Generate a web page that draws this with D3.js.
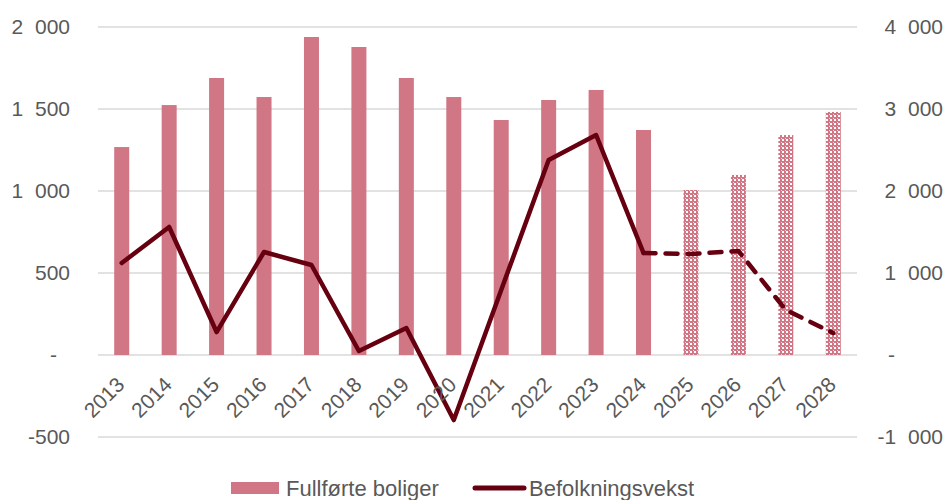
<!DOCTYPE html>
<html>
<head>
<meta charset="utf-8">
<script src="https://cdn.jsdelivr.net/npm/d3@7"></script>
<style>
    body { margin: 0; background: #fff; }
    svg text { font-family: "Liberation Sans", Arial, sans-serif; fill: #595959; }
</style>
</head>
<body>
<svg id="chart" width="947" height="500"></svg>
<script>
// data
var years = ["2013", "2014", "2015", "2016", "2017", "2018", "2019", "2020",
    "2021", "2022", "2023", "2024", "2025", "2026", "2027", "2028"];
var boliger = [1268, 1524, 1689, 1573, 1939, 1878, 1689, 1573,
    1433, 1555, 1616, 1372, 1006, 1098, 1341, 1482];
var befolkning = [1122, 1561, 280, 1256, 1098, 49, 329, -793,
    793, 2378, 2683, 1244, 1232, 1268, 549, 268];
var forecastFrom = "2024"; // line is dashed from here, bars patterned after
var leftTicks = [-500, 0, 500, 1000, 1500, 2000];
var rightTicks = [-1000, 0, 1000, 2000, 3000, 4000];

var barColor = "#d07684";
var lineColor = "#660010";

const margin = { top: 27, right: 90, bottom: 63, left: 98 },
    width = 947 - margin.left - margin.right,
    height = 500 - margin.top - margin.bottom;

var svg = d3.select("#chart");

// checkered fill for the forecast bars
var defs = svg.append("defs");
var pat = defs.append("pattern")
    .attr("id", "prognose")
    .attr("patternUnits", "userSpaceOnUse")
    .attr("width", 4)
    .attr("height", 4);
pat.append("rect").attr("width", 4).attr("height", 4).attr("fill", barColor);
pat.append("rect").attr("x", 0).attr("y", 0).attr("width", 2).attr("height", 2).attr("fill", "#fff");
pat.append("rect").attr("x", 3).attr("y", 3).attr("width", 1).attr("height", 1).attr("fill", "#f3d9dd");

var g = svg.append("g").attr("transform", `translate(${margin.left},${margin.top})`);

var x = d3.scaleBand().domain(years).range([0, width]).paddingInner(0).paddingOuter(0);
var yL = d3.scaleLinear().domain([-500, 2000]).range([height, 0]);
var yR = d3.scaleLinear().domain([-1000, 4000]).range([height, 0]);

function fmt(v) {
    if (v == 0) return "-";
    var s = Math.abs(v) >= 1000
        ? Math.floor(Math.abs(v) / 1000) + "\u2007" + d3.format("03d")(Math.abs(v) % 1000)
        : String(Math.abs(v));
    return (v < 0 ? "-" : "") + s;
}

// gridlines
g.append("g")
    .selectAll("line")
    .data(leftTicks)
    .join("line")
    .attr("x1", 0)
    .attr("x2", width)
    .attr("y1", (d) => yL(d))
    .attr("y2", (d) => yL(d))
    .attr("stroke", "#d9d9d9")
    .attr("stroke-width", 1.5);

// left axis labels
g.append("g")
    .selectAll("text")
    .data(leftTicks)
    .join("text")
    .attr("x", (d) => (d == 0 ? -41 : -28))
    .attr("y", (d) => yL(d))
    .attr("dy", "0.35em")
    .attr("text-anchor", "end")
    .style("font-size", "21px")
    .text(fmt);

// right axis labels
g.append("g")
    .selectAll("text")
    .data(rightTicks)
    .join("text")
    .attr("x", (d) => (d == 0 ? width + 31 : width + 86))
    .attr("y", (d) => yR(d))
    .attr("dy", "0.35em")
    .attr("text-anchor", (d) => (d == 0 ? "start" : "end"))
    .style("font-size", "21px")
    .text(fmt);

// bars
var barW = 15;
var fi = years.indexOf(forecastFrom);
g.append("g")
    .selectAll("rect")
    .data(years)
    .join("rect")
    .attr("x", (d) => x(d) + x.bandwidth() / 2 - barW / 2)
    .attr("width", barW)
    .attr("y", (d, i) => yL(boliger[i]))
    .attr("height", (d, i) => yL(0) - yL(boliger[i]))
    .attr("fill", (d, i) => (i > fi ? "url(#prognose)" : barColor));

// line
var line = d3.line()
    .x((d) => x(d.year) + x.bandwidth() / 2)
    .y((d) => yR(d.v));
var pts = years.map((d, i) => ({ year: d, v: befolkning[i] }));

g.append("path")
    .datum(pts.slice(0, fi + 1))
    .attr("d", line)
    .attr("fill", "none")
    .attr("stroke", lineColor)
    .attr("stroke-width", 4.5)
    .attr("stroke-linejoin", "round")
    .attr("stroke-linecap", "round");

g.append("path")
    .datum(pts.slice(fi))
    .attr("d", line)
    .attr("fill", "none")
    .attr("stroke", lineColor)
    .attr("stroke-width", 4.5)
    .attr("stroke-dasharray", "12,10")
    .attr("stroke-linecap", "round");

// x labels, rotated
g.append("g")
    .selectAll("text")
    .data(years)
    .join("text")
    .attr("text-anchor", "end")
    .style("font-size", "21px")
    .attr("transform", (d) => `translate(${x(d) + x.bandwidth() / 2 + 4},${yL(0) + 31}) rotate(-45)`)
    .text((d) => d);

// legend
var leg = svg.append("g");
leg.append("rect")
    .attr("x", 231).attr("y", 482).attr("width", 48).attr("height", 12)
    .attr("fill", barColor);
leg.append("text")
    .attr("x", 286).attr("y", 488).attr("dy", "0.35em")
    .style("font-size", "22px")
    .text("Fullførte boliger");
leg.append("line")
    .attr("x1", 475).attr("x2", 524).attr("y1", 488).attr("y2", 488)
    .attr("stroke", lineColor).attr("stroke-width", 5).attr("stroke-linecap", "round");
leg.append("text")
    .attr("x", 529).attr("y", 488).attr("dy", "0.35em")
    .style("font-size", "22px")
    .text("Befolkningsvekst");
</script>
</body>
</html>
